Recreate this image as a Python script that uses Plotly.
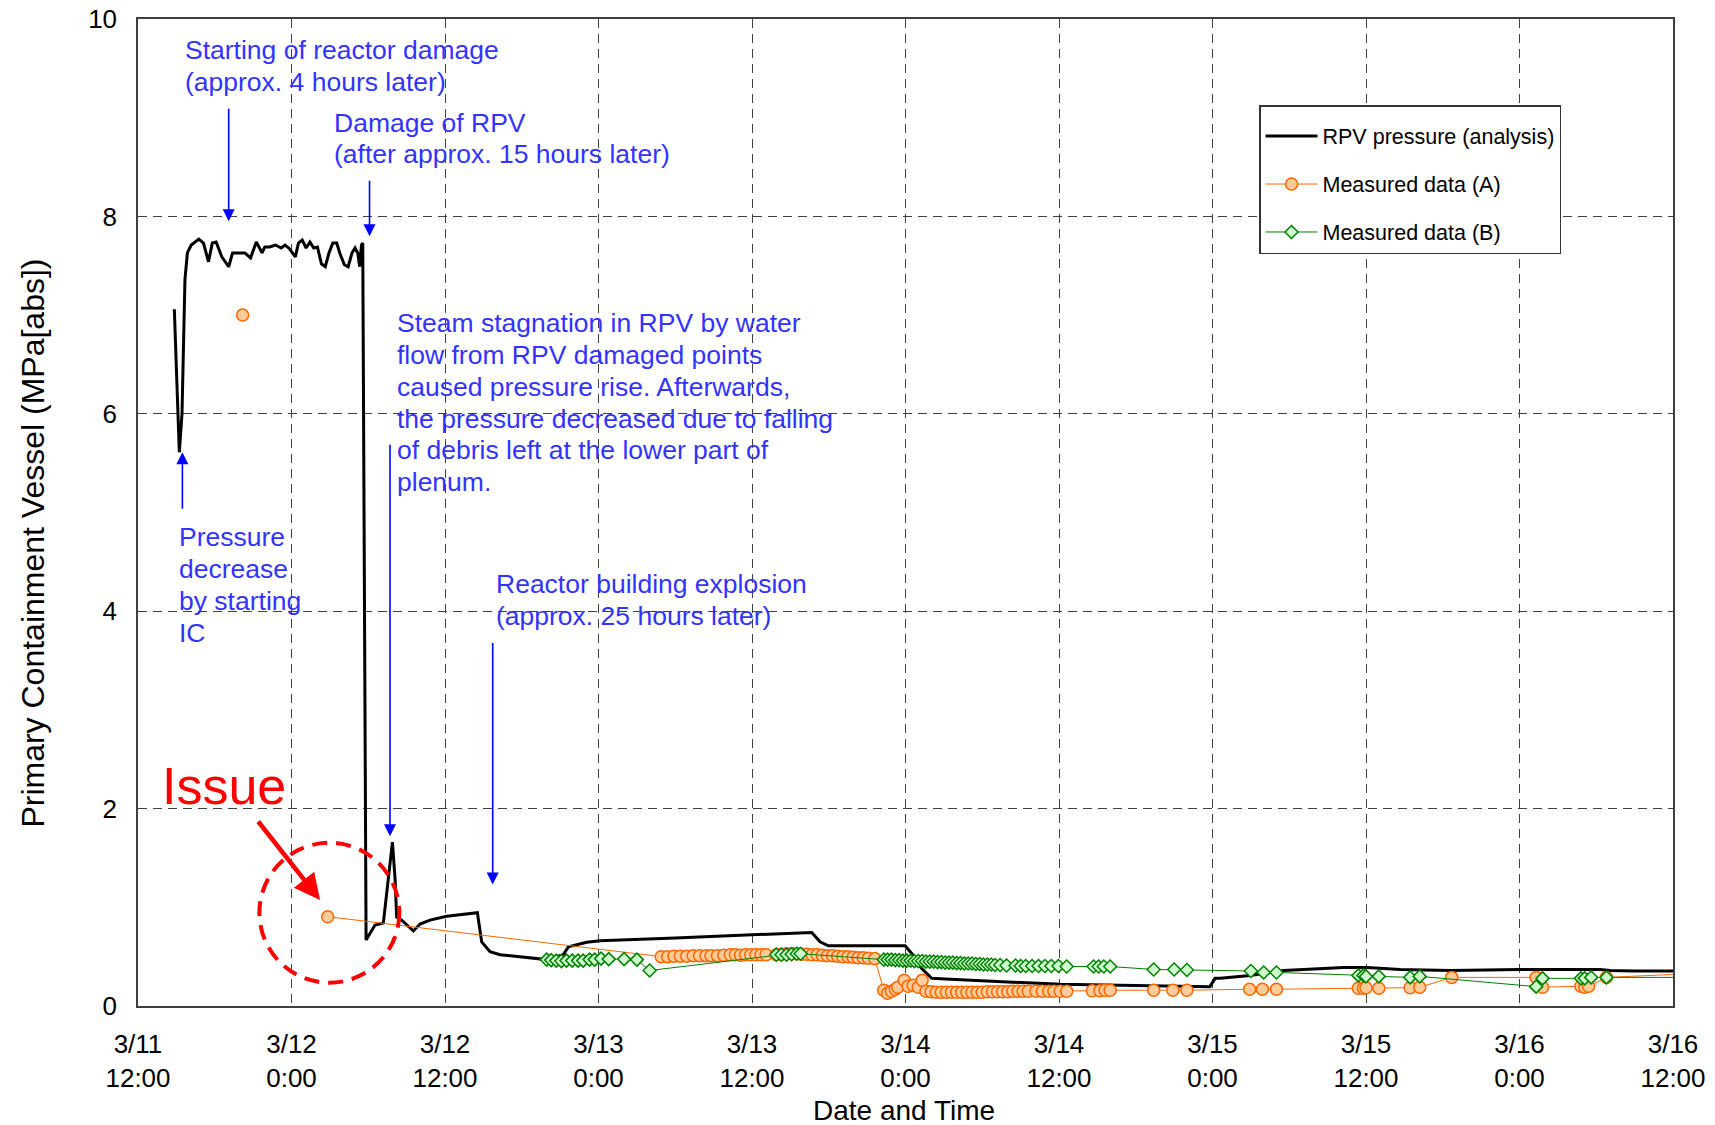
import pandas as pd
import plotly.graph_objects as go

# Time origin of the horizontal axis (3/11 12:00); all times are elapsed hours.
START = pd.Timestamp("2011-03-11 12:00")

# RPV pressure from the analysis [MPa abs]
rpv_hours = [2.84, 3.23, 3.44, 3.67, 3.86, 4.16, 4.76, 5.12, 5.51, 5.81, 6.11, 6.55, 7.09, 7.39,
             7.75, 8.35, 8.80, 9.25, 9.70, 9.91, 10.30, 10.75, 11.19, 11.49, 11.79, 12.09, 12.30,
             12.54, 12.84, 13.14, 13.44, 13.74, 14.03, 14.34, 14.64, 14.93, 15.23, 15.54, 15.77,
             16.13, 16.43, 16.73, 16.97, 17.18, 17.33, 17.47, 17.57, 17.83, 18.53, 19.18, 19.57,
             19.89, 20.10, 20.22, 20.62, 21.53, 22.05, 22.83, 24.13, 25.44, 26.53, 26.87, 27.52,
             28.30, 31.95, 33.25, 33.65, 35.08, 36.12, 42.0, 48.03, 52.67, 53.32, 53.97, 59.97,
             60.50, 61.27, 62.05, 63.50, 72.10, 83.80, 84.20, 84.60, 86.94, 89.55, 94.24, 96.07,
             98.67, 102.6, 108.05, 114.3, 115.1, 116.9, 120.0]
rpv_mpa = [7.06, 5.61, 6.00, 7.36, 7.63, 7.71, 7.77, 7.73, 7.54, 7.73, 7.74, 7.59, 7.49, 7.63,
           7.63, 7.63, 7.58, 7.74, 7.63, 7.69, 7.69, 7.71, 7.68, 7.71, 7.68, 7.63, 7.59,
           7.73, 7.76, 7.68, 7.74, 7.68, 7.69, 7.52, 7.49, 7.63, 7.73, 7.73, 7.63,
           7.51, 7.49, 7.63, 7.68, 7.63, 7.49, 7.71, 7.73, 0.67, 0.82, 0.84, 1.28,
           1.66, 1.28, 0.90, 0.87, 0.76, 0.83, 0.87, 0.91, 0.93, 0.945, 0.65, 0.55,
           0.52, 0.47, 0.52, 0.60, 0.645, 0.66, 0.69, 0.72, 0.745, 0.65, 0.61, 0.61,
           0.53, 0.38, 0.28, 0.27, 0.22, 0.196, 0.28, 0.28, 0.31, 0.36, 0.39, 0.39,
           0.37, 0.36, 0.37, 0.37, 0.36, 0.355, 0.355]

# Measured data (A); None separates the isolated early reading
meas_a_hours = [8.18, None, 14.83,
                40.9, 41.4, 41.9, 42.4, 42.9, 43.4, 43.9, 44.4, 44.8, 45.3, 45.8, 46.3, 46.7,
                47.1, 47.5, 47.9, 48.3, 48.7, 49.1,
                49.9, 50.3, 50.7, 51.1, 51.5, 51.9, 52.3, 52.7, 53.1, 53.5, 53.9, 54.3, 54.7,
                55.1, 55.5, 55.9, 56.3, 56.7, 57.1, 57.6,
                58.3, 58.6, 58.9, 59.2, 59.4, 59.9, 60.2, 60.6, 61.0, 61.3,
                61.6, 62.0, 62.4, 62.8, 63.2, 63.6, 64.0, 64.4, 64.8, 65.2, 65.6, 66.0, 66.4,
                66.8, 67.2, 67.6, 68.0, 68.4, 68.8, 69.2, 69.6, 70.2, 70.7, 71.2, 71.6, 72.1,
                72.6, 74.6, 75.2, 75.6, 76.0, 79.4, 80.9, 82.0, 86.9, 87.9, 89.0,
                95.4, 95.8, 96.0, 97.0, 99.45, 100.2, 102.7, 109.3, 109.8, 112.8, 113.1, 113.4,
                114.8, 121.0]
meas_a_mpa = [7.00, None, 0.905,
              0.50, 0.50, 0.505, 0.505, 0.505, 0.51, 0.51, 0.51, 0.51, 0.51, 0.515, 0.52, 0.52,
              0.515, 0.52, 0.52, 0.52, 0.52, 0.52,
              0.52, 0.525, 0.53, 0.53, 0.53, 0.525, 0.525, 0.52, 0.52, 0.515, 0.51, 0.51, 0.505,
              0.50, 0.50, 0.495, 0.49, 0.49, 0.485, 0.48,
              0.16, 0.13, 0.15, 0.17, 0.19, 0.26, 0.20, 0.21, 0.19, 0.26,
              0.15, 0.145, 0.14, 0.14, 0.14, 0.14, 0.14, 0.14, 0.14, 0.14, 0.14, 0.14, 0.145,
              0.145, 0.145, 0.145, 0.145, 0.15, 0.15, 0.15, 0.15, 0.15, 0.15, 0.15, 0.15, 0.15,
              0.15, 0.155, 0.155, 0.16, 0.16, 0.16, 0.16, 0.16, 0.17, 0.17, 0.17,
              0.18, 0.18, 0.185, 0.18, 0.185, 0.19, 0.29, 0.29, 0.19, 0.20, 0.19, 0.20,
              0.29, 0.325]

# Measured data (B)
meas_b_hours = [31.95, 32.3, 32.7, 33.1, 33.5, 33.95, 34.4, 34.8, 35.3, 35.7, 36.2, 36.8, 38.0,
                39.0, 40.0,
                49.9, 50.3, 50.7, 51.1, 51.5, 51.8,
                58.3, 58.6, 58.9, 59.2, 59.5, 59.8, 60.1, 60.4, 60.7, 61.0, 61.3, 61.6, 61.9,
                62.2, 62.5, 62.8, 63.1, 63.4, 63.7, 64.0, 64.3, 64.6, 64.9, 65.2, 65.5, 65.8,
                66.1, 66.4, 66.7, 67.0, 67.4, 67.9, 68.6, 69.0, 69.4, 69.9, 70.4, 70.9, 71.4,
                71.96, 72.6, 74.7, 75.1, 75.5, 76.0, 79.4, 81.0, 82.0, 87.0, 88.0, 89.0,
                95.4, 95.8, 96.0, 97.0, 99.45, 100.2, 109.3, 109.8, 112.8, 113.1, 113.6, 114.8,
                121.0]
meas_b_mpa = [0.47, 0.465, 0.46, 0.455, 0.46, 0.46, 0.46, 0.46, 0.47, 0.47, 0.48, 0.475, 0.475,
              0.47, 0.36,
              0.52, 0.52, 0.52, 0.525, 0.53, 0.53,
              0.47, 0.47, 0.47, 0.465, 0.465, 0.46, 0.46, 0.46, 0.455, 0.455, 0.455, 0.45, 0.45,
              0.45, 0.445, 0.445, 0.44, 0.44, 0.44, 0.435, 0.435, 0.43, 0.43, 0.43, 0.425, 0.425,
              0.42, 0.42, 0.42, 0.415, 0.415, 0.41, 0.41, 0.405, 0.405, 0.405, 0.405, 0.405, 0.405,
              0.405, 0.40, 0.40, 0.40, 0.40, 0.40, 0.37, 0.37, 0.365, 0.355, 0.34, 0.34,
              0.31, 0.31, 0.30, 0.30, 0.29, 0.30, 0.196, 0.28, 0.28, 0.28, 0.29, 0.29,
              0.29]

tick_hours = [0, 12, 24, 36, 48, 60, 72, 84, 96, 108, 120]
tick_labels = ["3/11<br>12:00", "3/12<br>0:00", "3/12<br>12:00", "3/13<br>0:00", "3/13<br>12:00",
               "3/14<br>0:00", "3/14<br>12:00", "3/15<br>0:00", "3/15<br>12:00", "3/16<br>0:00",
               "3/16<br>12:00"]
y_ticks = [0, 2, 4, 6, 8, 10]


def to_time(h):
    if h is None:
        return None
    return (START + pd.Timedelta(hours=h)).strftime("%Y-%m-%d %H:%M:%S.%f")


# Page geometry (pixels)
FIG_W, FIG_H = 1715, 1125
M_L, M_R, M_T, M_B = 138, 42, 19, 119
PLOT_W = FIG_W - M_L - M_R
PLOT_H = FIG_H - M_T - M_B


def px_x(x):
    return (x - M_L) / PLOT_W


def px_y(y):
    return (FIG_H - M_B - y) / PLOT_H


FONT = "Liberation Sans, Arial, sans-serif"
NOTE_BLUE = "#3333FF"
ARROW_BLUE = "#0000FF"

fig = go.Figure()

fig.add_trace(go.Scatter(
    x=[to_time(h) for h in rpv_hours], y=rpv_mpa, mode="lines",
    name="RPV pressure (analysis)", legendgroup="a",
    line=dict(color="black", width=3)))

fig.add_trace(go.Scatter(
    x=[to_time(h) for h in meas_a_hours], y=meas_a_mpa, mode="lines+markers",
    name="Measured data (A)", legendgroup="b", connectgaps=False,
    line=dict(color="#FF6600", width=1),
    marker=dict(symbol="circle", size=12, color="#FFCC99",
                line=dict(color="#FF6600", width=1.5))))

fig.add_trace(go.Scatter(
    x=[to_time(h) for h in meas_b_hours], y=meas_b_mpa, mode="lines+markers",
    name="Measured data (B)", legendgroup="c",
    line=dict(color="#008000", width=1),
    marker=dict(symbol="diamond", size=10, color="#CCFFCC",
                line=dict(color="#008000", width=1.5))))

shapes = []
# white panels behind the text notes hide the grid there
for (x0, y0, x1, y1) in [(175, 22, 512, 110), (325, 22, 680, 178),
                         (158, 502, 340, 663), (470, 555, 862, 642)]:
    shapes.append(dict(type="rect", xref="paper", yref="paper",
                       x0=px_x(x0), x1=px_x(x1), y0=px_y(y1), y1=px_y(y0),
                       fillcolor="white", line=dict(width=0), layer="between"))

# dashed red ring around the questioned reading
ring_h, ring_p, ring_dh, ring_dp = 14.96, 0.945, 5.47, 0.709
shapes.append(dict(type="circle", xref="x", yref="y",
                   x0=to_time(ring_h - ring_dh), x1=to_time(ring_h + ring_dh),
                   y0=ring_p - ring_dp, y1=ring_p + ring_dp,
                   line=dict(color="#FF0000", width=4, dash="15px,9px"), layer="above"))

annotations = []


def add_block(lines, x, y_first, spacing=31.7, size=26.5, color=NOTE_BLUE):
    for i, line in enumerate(lines):
        annotations.append(dict(
            text=line, xref="paper", yref="paper",
            x=px_x(x), y=px_y(y_first + i * spacing),
            xanchor="left", yanchor="middle", showarrow=False,
            font=dict(family=FONT, size=size, color=color)))


add_block(["Starting of reactor damage", "(approx. 4 hours later)"], 183, 50.5)
add_block(["Damage of RPV", "(after approx. 15 hours later)"], 332, 122.7)
add_block(["Steam stagnation in RPV by water",
           "flow from RPV damaged points",
           "caused pressure rise. Afterwards,",
           "the pressure decreased due to falling",
           "of debris left at the lower part of",
           "plenum."], 395, 323.5)
add_block(["Pressure", "decrease", "by starting", "IC"], 177, 536.7, spacing=32.2)
add_block(["Reactor building explosion", "(approx. 25 hours later)"], 494, 584.3)


def add_arrow(h, p, ax, ay, color=ARROW_BLUE, width=1.6, head=2, size=1.5):
    annotations.append(dict(
        text="", x=to_time(h), y=p, xref="x", yref="y",
        ax=ax, ay=ay, axref="pixel", ayref="pixel",
        showarrow=True, arrowhead=head, arrowsize=size, arrowwidth=width,
        arrowcolor=color, standoff=0))


add_arrow(7.09, 7.95, 0, -114)
add_arrow(18.1, 7.80, 0, -57)
add_arrow(3.47, 5.61, 0, 58)
add_arrow(19.7, 1.72, 0, -393)
add_arrow(27.73, 1.23, 0, -243)
add_arrow(14.23, 1.074, -63, -80, color="#FF0000", width=4.5, head=2, size=1.15)

annotations.append(dict(
    text="Issue", xref="paper", yref="paper", x=px_x(160), y=px_y(786),
    xanchor="left", yanchor="middle", showarrow=False,
    font=dict(family=FONT, size=52, color="#FF0000")))

# axis titles
annotations.append(dict(
    text="Primary Containment Vessel (MPa[abs])", xref="paper", yref="paper",
    x=px_x(33), y=px_y(543.6), xanchor="center", yanchor="middle", textangle=-90,
    showarrow=False, font=dict(family=FONT, size=32, color="black")))
annotations.append(dict(
    text="Date and Time", xref="paper", yref="paper",
    x=px_x(903.5), y=px_y(1110.5), xanchor="center", yanchor="middle",
    showarrow=False, font=dict(family=FONT, size=28, color="black")))

grid = dict(showgrid=True, gridcolor="#404040", gridwidth=1, griddash="9px,6px",
            showline=True, linecolor="#404040", linewidth=1.5, mirror=True,
            ticks="", zeroline=False, automargin=False)

fig.update_layout(
    width=FIG_W, height=FIG_H,
    margin=dict(l=M_L, r=M_R, t=M_T, b=M_B, pad=0, autoexpand=False),
    paper_bgcolor="white", plot_bgcolor="white",
    font=dict(family=FONT, size=26, color="black"),
    xaxis=dict(type="date", range=[to_time(0), to_time(120)],
               tickmode="array", tickvals=[to_time(h) for h in tick_hours],
               ticktext=tick_labels, ticklabelstandoff=14,
               tickfont=dict(family=FONT, size=26, color="black"), **grid),
    yaxis=dict(range=[0, 10], tickmode="array", tickvals=y_ticks,
               ticktext=[str(v) for v in y_ticks], ticklabelstandoff=14,
               tickfont=dict(family=FONT, size=26, color="black"), **grid),
    legend=dict(x=px_x(1259), y=px_y(105), xanchor="left", yanchor="top",
                bgcolor="white", bordercolor="#333333", borderwidth=1.5,
                font=dict(family=FONT, size=21.5, color="black"),
                title=dict(text=" ", font=dict(family=FONT, size=7)),
                traceorder="grouped", tracegroupgap=17, itemwidth=52),
    shapes=shapes,
    annotations=annotations,
    showlegend=True,
)

fig.write_html("out.html")
